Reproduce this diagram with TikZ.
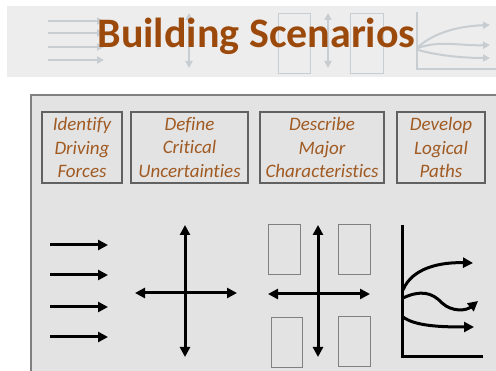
\documentclass[tikz,border=0pt]{standalone}
\usepackage{fontspec}
\setmainfont{Carlito}[Ligatures=NoCommon]
\usetikzlibrary{arrows.meta,positioning}
\definecolor{rust}{HTML}{9C4A0C}
\definecolor{copper}{HTML}{A05A22}
\definecolor{panelgray}{HTML}{E3E3E3}
\definecolor{bandgray}{HTML}{EDEDED}
\definecolor{ghost}{HTML}{C8CDD2}

\begin{document}
\begin{tikzpicture}[x=1pt,y=-1pt,
  stagebox/.style={draw=black!62, line width=1.1pt, fill=panelgray, minimum width=#1,
    minimum height=71pt, inner sep=0pt, align=center, text=copper,
    font=\fontsize{19}{23.5}\selectfont\itshape},
  icon/.style={line width=3pt, -{Triangle[length=10pt,width=10pt]}},
  bothicon/.style={line width=3pt, {Triangle[length=10pt,width=10pt]}-{Triangle[length=10pt,width=10pt]}},
  faint/.style={draw=ghost, line width=2pt},
  faintarrow/.style={faint, -{Triangle[length=7pt,width=7pt]}},
  quad/.style={draw=black!50, line width=0.8pt}]
\useasboundingbox (0,0) rectangle (496,371);
\fill[white] (0,0) rectangle (496,371);
% title band
\fill[bandgray] (7,6) rectangle (496,77);
\foreach \y in {21,33,47,60}
  \draw[faintarrow] (48,\y) -- (104,\y);
\draw[faint, {Triangle[length=7pt,width=7pt]}-{Triangle[length=7pt,width=7pt]}] (189,13) -- (189,68);
\draw[faint, line width=0.8pt] (278,13) rectangle (310,73) (350,13) rectangle (383,73);
\draw[faint, {Triangle[length=7pt,width=7pt]}-{Triangle[length=7pt,width=7pt]}] (328,13) -- (328,68);
\draw[faint] (417,12) -- (417,69) -- (496,69);
\draw[faintarrow] (418,47) .. controls (435,32) and (460,26) .. (490,25);
\draw[faintarrow] (418,48) .. controls (440,40) and (460,46) .. (490,45);
\draw[faintarrow] (418,50) .. controls (440,56) and (465,58) .. (490,58);
\node[anchor=base, text=rust, font=\fontsize{42}{42}\selectfont\bfseries] (t) at (256.5,48) {Building Scenarios};
% panel
\draw[fill=panelgray, draw=black!50, line width=1.5pt] (31,95) rectangle (505,380);
\node[stagebox=80pt] (a) at (82,147.5) {Identify\\Driving\\Forces};
\node[stagebox=117pt] (b) at (189.5,147.5) {Define\\Critical\\Uncertainties};
\node[stagebox=124pt] (c) at (322,147.5) {Describe\\Major\\Characteristics};
\node[stagebox=88pt] (d) at (441,147.5) {Develop\\Logical\\Paths};
% driving forces
\foreach \y in {245,275,307,337}
  \draw[icon] (50,\y) -- (108,\y);
% uncertainties
\draw[bothicon] (185,225) -- (185,357);
\draw[bothicon] (135,293) -- (237,293);
% characteristics
\draw[quad] (268,224) rectangle (300,274) (338,224) rectangle (370,274)
  (271,317) rectangle (302,367) (338,316) rectangle (370,366);
\draw[bothicon] (318,225) -- (318,357);
\draw[bothicon] (268,294) -- (370,294);
% paths
\draw[line width=3pt] (402,225) -- (402,357) -- (483,357);
\draw[icon] (403,290) .. controls (412,268) and (440,262) .. (473,263);
\draw[icon] (403,298) .. controls (420,290) and (432,292) .. (442,303)
  .. controls (452,312) and (466,311) .. (478,301);
\draw[icon] (403,317) .. controls (415,326) and (440,327) .. (474,327);
\end{tikzpicture}
\end{document}
